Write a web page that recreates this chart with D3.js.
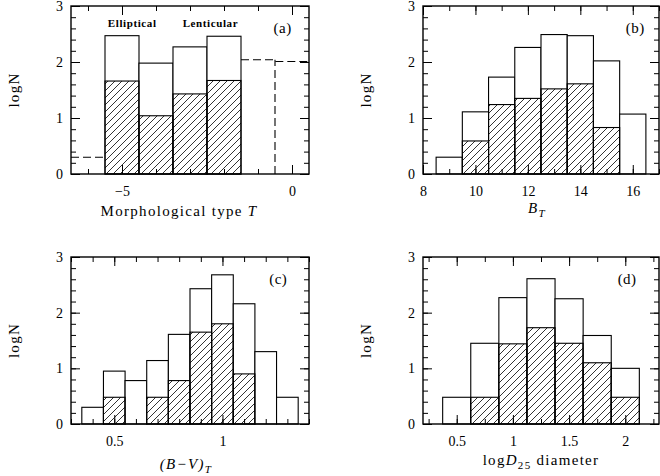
<!DOCTYPE html>
<html>
<head>
<meta charset="utf-8">
<script src="https://cdn.jsdelivr.net/npm/d3@7"></script>
<style>
  body { margin: 0; background: #fff; }
  svg { display: block; }
  .tick text { font-family: "Liberation Serif", serif; font-size: 14px; fill: #000; }
  .tick line { stroke: #000; stroke-width: 1; }
  .lbl { font-family: "Liberation Serif", serif; font-size: 15px; fill: #000; letter-spacing: 1.3px; }
</style>
</head>
<body>
<div id="chart"></div>
<script>
// (a) morphological type
const typeBins = [-5, -4, -3, -2];
const typeAll = [2.47, 1.98, 2.27, 2.46];
const typeHatch = [1.66, 1.04, 1.43, 1.67];
const typeDashBins = [-6, -1, 0];
const typeDash = [0.30, 2.04, 2.01];

// (b) B_T
const btBins = [9, 10, 11, 12, 13, 14, 15, 16];
const btAll = [0.30, 1.11, 1.73, 2.26, 2.49, 2.47, 2.02, 1.07];
const btHatch = [0, 0.59, 1.24, 1.35, 1.52, 1.61, 0.83, 0];

// (c) (B-V)_T
const bvBins = [0.4, 0.5, 0.6, 0.7, 0.8, 0.9, 1.0, 1.1, 1.2, 1.3];
const bvAll = [0.30, 0.95, 0.78, 1.14, 1.61, 2.43, 2.68, 2.16, 1.30, 0.48];
const bvHatch = [0, 0.48, 0, 0.48, 0.78, 1.65, 1.80, 0.90, 0, 0];

// (d) log D25
const dBins = [0.5, 0.75, 1.0, 1.25, 1.5, 1.75, 2.0];
const dAll = [0.48, 1.45, 2.27, 2.61, 2.25, 1.59, 1.00];
const dHatch = [0, 0.48, 1.44, 1.73, 1.45, 1.10, 0.48];

// tick labels
const yMajor = [0, 1, 2, 3];
const yMinor = d3.range(0, 3.01, 0.2);
const typeMajor = [-5, 0];
const btMajor = [8, 10, 12, 14, 16];
const bvMajor = [0.5, 1];
const dMajor = [0.5, 1, 1.5, 2];

const width = 660, height = 476;
const svg = d3.select("#chart").append("svg")
    .attr("width", width)
    .attr("height", height)
    .style("background", "#fff");

svg.append("defs").append("pattern")
    .attr("id", "hatch")
    .attr("patternUnits", "userSpaceOnUse")
    .attr("width", 7)
    .attr("height", 7)
  .append("path")
    .attr("d", "M-1,1 l2,-2 M0,7 l7,-7 M6,8 l2,-2")
    .attr("stroke", "#000")
    .attr("stroke-width", 0.8);

function panel(p) {
    const x = d3.scaleLinear().domain(p.xDomain).range([p.left, p.right]);
    const y = d3.scaleLinear().domain([0, 3]).range([p.bottom, p.top]);
    const g = svg.append("g");
    const hw = p.binW / 2;

    const rows = p.bins.map((b, i) => ({ b: b, all: p.all[i], hatch: p.hatch[i] }));

    g.selectAll("rect.all").data(rows.filter(d => d.all > 0)).enter().append("rect")
        .attr("class", "all")
        .attr("x", d => x(d.b - hw))
        .attr("y", d => y(d.all))
        .attr("width", d => x(d.b + hw) - x(d.b - hw))
        .attr("height", d => y(0) - y(d.all))
        .attr("fill", "#fff")
        .attr("stroke", "#000")
        .attr("stroke-width", 1.1);

    g.selectAll("rect.hatch").data(rows.filter(d => d.hatch > 0)).enter().append("rect")
        .attr("class", "hatch")
        .attr("x", d => x(d.b - hw))
        .attr("y", d => y(d.hatch))
        .attr("width", d => x(d.b + hw) - x(d.b - hw))
        .attr("height", d => y(0) - y(d.hatch))
        .attr("fill", "url(#hatch)")
        .attr("stroke", "#000")
        .attr("stroke-width", 1.1);

    if (p.dashBins) {
        // dashed step histogram
        let path = d3.path();
        p.dashBins.forEach((b, i) => {
            const v = p.dash[i];
            if (i === 0 || p.dashBins[i - 1] !== b - p.binW) {
                path.moveTo(x(b - hw), y(v));
            } else {
                path.lineTo(x(b - hw), y(v));
            }
            path.lineTo(x(b + hw), y(v));
        });
        g.append("path")
            .attr("d", path.toString())
            .attr("fill", "none")
            .attr("stroke", "#000")
            .attr("stroke-width", 1.1)
            .attr("stroke-dasharray", "8,4");
        // vertical dashed drop at -0.5
        g.append("line")
            .attr("x1", x(p.dashBins[2] - hw)).attr("x2", x(p.dashBins[2] - hw))
            .attr("y1", y(0)).attr("y2", y(p.dash[1]))
            .attr("stroke", "#000")
            .attr("stroke-width", 1.1)
            .attr("stroke-dasharray", "8,4");
    }

    // ticks on all four sides, pointing in
    const minL = 5, majL = 9;
    const axes = [
        [d3.axisBottom(x), p.bottom, 0, p.xMinor, p.xMajor, true],
        [d3.axisTop(x), p.top, 0, p.xMinor, p.xMajor, false],
        [d3.axisLeft(y), 0, p.left, yMinor, yMajor, true],
        [d3.axisRight(y), 0, p.right, yMinor, yMajor, false]
    ];
    axes.forEach(([ax, ty, tx, minor, major, lab]) => {
        g.append("g")
            .attr("transform", `translate(${tx},${ty})`)
            .call(ax.tickValues(minor).tickSize(-minL).tickFormat(""))
            .call(a => a.select(".domain").remove());
        const m = g.append("g")
            .attr("transform", `translate(${tx},${ty})`)
            .call(ax.tickValues(major).tickSize(-majL).tickPadding(lab && tx === 0 ? 12 : 8)
                .tickFormat(lab ? (d => String(d).replace("-", "\u2212")) : ""))
            .call(a => a.select(".domain").remove());
        m.selectAll("text").attr("font-family", null).attr("font-size", null);
    });

    g.append("rect")
        .attr("x", p.left).attr("y", p.top)
        .attr("width", p.right - p.left).attr("height", p.bottom - p.top)
        .attr("fill", "none")
        .attr("stroke", "#000")
        .attr("stroke-width", 1.4);

    g.append("text")
        .attr("class", "lbl")
        .attr("x", p.left + p.tagX * (p.right - p.left))
        .attr("y", p.top + 27)
        .attr("text-anchor", "middle")
        .style("letter-spacing", "0.5px")
        .text(p.tag);

    g.append("text")
        .attr("class", "lbl")
        .attr("transform", `translate(${p.left - 52.5},${(p.top + p.bottom) / 2}) rotate(-90)`)
        .attr("text-anchor", "middle")
        .text("logN");

    const xl = g.append("text")
        .attr("class", "lbl")
        .attr("x", p.xlabX)
        .attr("y", p.bottom + p.xlabDy)
        .attr("text-anchor", "middle");
    p.xlab(xl);
    return x;
}

const xa = panel({
    left: 71, right: 309, top: 6, bottom: 174,
    xDomain: [-6.5, 0.5], binW: 1,
    bins: typeBins, all: typeAll, hatch: typeHatch,
    dashBins: typeDashBins, dash: typeDash,
    xMinor: d3.range(-6, 1, 1), xMajor: typeMajor,
    tag: "(a)", tagX: 0.889,
    xlabX: 179, xlabDy: 42,
    xlab: t => { t.append("tspan").text("Morphological type "); t.append("tspan").style("font-style", "italic").text("T"); }
});

svg.append("text").attr("x", xa(-4.7)).attr("y", 27).attr("text-anchor", "middle")
    .attr("font-family", "Liberation Serif, serif").attr("font-weight", "bold")
    .attr("font-size", 11).style("letter-spacing", "0.6px").text("Elliptical");
svg.append("text").attr("x", xa(-2.4)).attr("y", 27).attr("text-anchor", "middle")
    .attr("font-family", "Liberation Serif, serif").attr("font-weight", "bold")
    .attr("font-size", 11).style("letter-spacing", "0.6px").text("Lenticular");

panel({
    left: 423, right: 659, top: 6, bottom: 174,
    xDomain: [8, 17], binW: 1,
    bins: btBins, all: btAll, hatch: btHatch,
    xMinor: d3.range(8, 17.01, 1), xMajor: btMajor,
    tag: "(b)", tagX: 0.899,
    xlabX: 537, xlabDy: 39,
    xlab: t => {
        t.append("tspan").style("font-style", "italic").text("B");
        t.append("tspan").style("font-style", "italic").style("font-size", "11px").attr("dy", 4).text("T");
    }
});

panel({
    left: 71, right: 309, top: 257, bottom: 424,
    xDomain: [0.3, 1.4], binW: 0.1,
    bins: bvBins, all: bvAll, hatch: bvHatch,
    xMinor: d3.range(0.3, 1.401, 0.1), xMajor: bvMajor,
    tag: "(c)", tagX: 0.871,
    xlabX: 186, xlabDy: 45,
    xlab: t => {
        t.append("tspan").style("font-style", "italic").text("(B\u2212V)");
        t.append("tspan").style("font-style", "italic").style("font-size", "11px").attr("dy", 4).text("T");
    }
});

panel({
    left: 423, right: 659, top: 257, bottom: 424,
    xDomain: [0.2, 2.3], binW: 0.25,
    bins: dBins, all: dAll, hatch: dHatch,
    xMinor: d3.range(0.25, 2.3, 0.25), xMajor: dMajor,
    tag: "(d)", tagX: 0.865,
    xlabX: 541, xlabDy: 41,
    xlab: t => {
        t.append("tspan").text("log");
        t.append("tspan").style("font-style", "italic").text("D");
        t.append("tspan").style("font-size", "11px").attr("dy", 4).text("25");
        t.append("tspan").attr("dy", -4).text("  diameter");
    }
});
</script>
</body>
</html>
